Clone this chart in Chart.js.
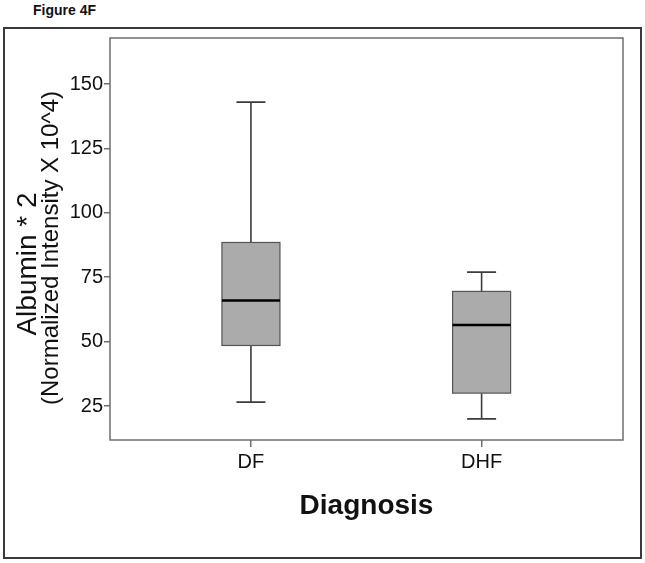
<!DOCTYPE html>
<html>
<head>
<meta charset="utf-8">
<script src="https://cdn.jsdelivr.net/npm/chart.js@4"></script>
<style>
  html, body { margin: 0; padding: 0; background: #fff; }
  body { width: 645px; height: 563px; position: relative; overflow: hidden; font-family: "Liberation Sans", Arial, sans-serif; }
  #figLabel { position: absolute; left: 33px; top: 2px; font-size: 14px; font-weight: bold; color: #111; }
  #frame { position: absolute; left: 3px; top: 27px; width: 639px; height: 532px; box-sizing: border-box; border: 2px solid #3a3a3a; }
  #wrap { position: absolute; left: 0; top: 0; width: 645px; height: 563px; }
</style>
</head>
<body>
<div id="figLabel">Figure 4F</div>
<div id="frame"></div>
<div id="wrap"><canvas id="chart" width="645" height="563"></canvas></div>
<script>
// --- data ---
const categories = ['DF', 'DHF'];
const whiskerLow = [26.5, 20];
const q1 = [48.5, 30];
const median = [66, 56.5];
const q3 = [88.5, 69.5];
const whiskerHigh = [143, 77];
const yTicks = [25, 50, 75, 100, 125, 150];

const FONT = '"Liberation Sans", Arial, sans-serif';

// draws the boxes, whiskers, frame and titles using the chart's scales
const boxPlot = {
  id: 'boxPlot',
  afterDatasetsDraw(chart) {
    const { ctx, chartArea, scales } = chart;
    const xs = scales.x, ys = scales.y;
    ctx.save();

    categories.forEach((c, i) => {
      const x = xs.getPixelForValue(i + 1);
      const half = 29, cap = 14.5;
      const yLo = ys.getPixelForValue(whiskerLow[i]);
      const yQ1 = ys.getPixelForValue(q1[i]);
      const yMed = ys.getPixelForValue(median[i]);
      const yQ3 = ys.getPixelForValue(q3[i]);
      const yHi = ys.getPixelForValue(whiskerHigh[i]);

      // whiskers
      ctx.strokeStyle = '#3c3c3c';
      ctx.lineWidth = 1.6;
      ctx.beginPath();
      ctx.moveTo(x, yHi); ctx.lineTo(x, yQ3);
      ctx.moveTo(x, yQ1); ctx.lineTo(x, yLo);
      ctx.moveTo(x - cap, yHi); ctx.lineTo(x + cap, yHi);
      ctx.moveTo(x - cap, yLo); ctx.lineTo(x + cap, yLo);
      ctx.stroke();

      // box
      ctx.fillStyle = '#ababab';
      ctx.fillRect(x - half, yQ3, half * 2, yQ1 - yQ3);
      ctx.strokeStyle = '#555';
      ctx.lineWidth = 1.2;
      ctx.strokeRect(x - half, yQ3, half * 2, yQ1 - yQ3);

      // median
      ctx.strokeStyle = '#000';
      ctx.lineWidth = 2.5;
      ctx.beginPath();
      ctx.moveTo(x - half, yMed); ctx.lineTo(x + half, yMed);
      ctx.stroke();
    });

    // plot frame
    ctx.strokeStyle = '#6e6e6e';
    ctx.lineWidth = 1.5;
    ctx.strokeRect(chartArea.left, chartArea.top, chartArea.right - chartArea.left, chartArea.bottom - chartArea.top);

    // axis titles
    ctx.fillStyle = '#111';
    ctx.textAlign = 'center';
    ctx.textBaseline = 'alphabetic';
    ctx.font = 'bold 28px ' + FONT;
    ctx.fillText('Diagnosis', (chartArea.left + chartArea.right) / 2, 514);

    ctx.save();
    ctx.translate(36, 264);
    ctx.rotate(-Math.PI / 2);
    ctx.font = '28px ' + FONT;
    ctx.fillText('Albumin * 2', 0, 0);
    ctx.restore();

    ctx.save();
    ctx.translate(58, 248);
    ctx.rotate(-Math.PI / 2);
    ctx.font = '24px ' + FONT;
    ctx.fillText('(Normalized Intensity X 10^4)', 0, 0);
    ctx.restore();

    ctx.restore();
  }
};

new Chart(document.getElementById('chart'), {
  type: 'scatter',
  data: { datasets: [] },
  options: {
    responsive: false,
    animation: false,
    layout: { padding: { top: 38, right: 22, bottom: 0, left: 0 } },
    plugins: { legend: { display: false }, tooltip: { enabled: false } },
    scales: {
      x: {
        type: 'linear',
        min: 0.389,
        max: 2.613,
        afterFit: s => { s.height = 123; },
        afterBuildTicks: s => { s.ticks = categories.map((c, i) => ({ value: i + 1 })); },
        ticks: {
          callback: v => categories[v - 1] || '',
          color: '#111',
          font: { family: FONT, size: 20 },
          padding: 3
        },
        grid: { drawOnChartArea: false, tickLength: 7, color: '#6e6e6e', lineWidth: 1.5 },
        border: { display: false }
      },
      y: {
        min: 11.8,
        max: 167.9,
        afterFit: s => { s.width = 110; },
        afterBuildTicks: s => { s.ticks = yTicks.map(v => ({ value: v })); },
        ticks: {
          color: '#111',
          font: { family: FONT, size: 20 },
          padding: 1
        },
        grid: { drawOnChartArea: false, tickLength: 6, color: '#6e6e6e', lineWidth: 1.5 },
        border: { display: false }
      }
    }
  },
  plugins: [boxPlot]
});
</script>
</body>
</html>
